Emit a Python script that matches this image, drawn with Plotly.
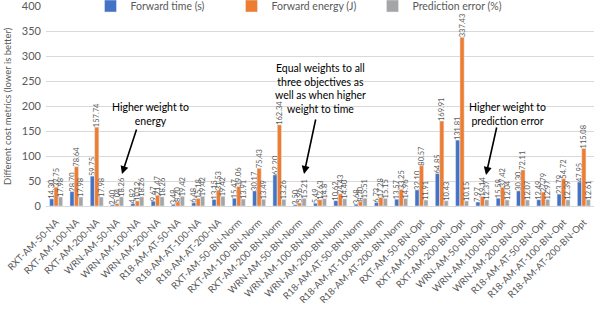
import plotly.graph_objects as go

categories = [
    "RXT-AM-50-NA", "RXT-AM-100-NA", "RXT-AM-200-NA",
    "WRN-AM-50-NA", "WRN-AM-100-NA", "WRN-AM-200-NA",
    "R18-AM-AT-50-NA", "R18-AM-AT-100-NA", "R18-AM-AT-200-NA",
    "RXT-AM-50-BN-Norm", "RXT-AM-100-BN-Norm", "RXT-AM-200-BN-Norm",
    "WRN-AM-50-BN-Norm", "WRN-AM-100-BN-Norm", "WRN-AM-200-BN-Norm",
    "R18-AM-AT-50-BN-Norm", "R18-AM-AT-100-BN-Norm", "R18-AM-AT-200-BN-Norm",
    "RXT-AM-50-BN-Opt", "RXT-AM-100-BN-Opt", "RXT-AM-200-BN-Opt",
    "WRN-AM-50-BN-Opt", "WRN-AM-100-BN-Opt", "WRN-AM-200-BN-Opt",
    "R18-AM-AT-50-BN-Opt", "R18-AM-AT-100-BN-Opt", "R18-AM-AT-200-BN-Opt",
]
forward_time = [14.30, 28.70, 59.75, 2.40, 4.82, 9.67, 3.49, 6.48, 13.15,
                15.47, 30.17, 62.20, 2.50, 5.49, 10.62, 3.68, 6.73, 13.57,
                32.10, 64.85, 131.81, 7.97, 15.59, 30.30, 12.49, 23.79, 47.95]
forward_energy = [37.75, 78.64, 157.74, 5.04, 10.12, 21.47, 8.20, 15.18, 31.53,
                  39.06, 75.43, 162.34, 5.96, 12.63, 24.43, 8.70, 17.28, 33.25,
                  80.57, 169.91, 337.43, 19.14, 37.42, 72.11, 27.79, 54.72, 115.08]
prediction_error = [17.98, 17.98, 17.98, 18.26, 18.26, 18.26, 19.42, 19.42, 19.42,
                    13.91, 13.49, 13.26, 15.21, 14.8, 14.40, 15.51, 15.15, 14.96,
                    11.91, 10.43, 10.15, 12.37, 12.04, 12.07, 12.97, 12.39, 12.61]
y_ticks = [0, 50, 100, 150, 200, 250, 300, 350, 400]

FONT = "Lato"
GRAY_TXT = "#595959"

def fmt(vals):
    out = []
    for v in vals:
        s = "%.2f" % v
        if v == 14.8:
            s = "14.8"
        out.append(s)
    return out

series = [
    ("Forward time (s)", forward_time, "#4472C4"),
    ("Forward energy (J)", forward_energy, "#ED7D31"),
    ("Prediction error (%)", prediction_error, "#A5A5A5"),
]

fig = go.Figure()
for name, vals, col in series:
    fig.add_trace(go.Bar(
        x=categories, y=vals, name=name, marker_color=col,
        text=fmt(vals), textposition="outside", textangle=-90,
        constraintext="none", cliponaxis=False,
        textfont=dict(family=FONT, size=7.5, color=GRAY_TXT),
    ))

W, H = 598, 318
L, R, T, B = 46, 4, 6, 112
pw, ph = W - L - R, H - T - B

def px(x):
    return (x - L) / pw

def py(y):
    return (H - B - y) / ph

annotations = []
texts = [
    ("Higher weight to<br>energy", 150, 114),
    ("Equal weights to all<br>three objectives as<br>well as when higher<br>weight to time", 320, 88),
    ("Higher weight to<br>prediction error", 507, 114),
]
for t, x, y in texts:
    annotations.append(dict(text=t, x=px(x), y=py(y), xref="paper", yref="paper",
                            showarrow=False, font=dict(family=FONT, size=10.5, color="#000000"),
                            align="center", xanchor="center", yanchor="middle"))
arrows = [(122, 174, 15, -46), (304, 174, 12, -56), (486, 175, 11, -49)]
for hx, hy, ax, ay in arrows:
    annotations.append(dict(text="", x=px(hx), y=py(hy), xref="paper", yref="paper",
                            showarrow=True, ax=ax, ay=ay, arrowhead=2, arrowsize=1,
                            arrowwidth=1.6, arrowcolor="#000000"))
# y-axis title
annotations.append(dict(text="Different cost metrics (lower is better)", x=px(7), y=0.5,
                        xref="paper", yref="paper", showarrow=False, textangle=-90,
                        font=dict(family=FONT, size=9.5, color=GRAY_TXT),
                        xanchor="center", yanchor="middle"))

fig.update_layout(
    width=W, height=H,
    margin=dict(l=L, r=R, t=T, b=B, autoexpand=False),
    plot_bgcolor="white", paper_bgcolor="white",
    barmode="group", bargap=0.35, bargroupgap=0.05,
    font=dict(family=FONT, color=GRAY_TXT),
    legend=dict(orientation="h", x=px(302), xanchor="center", y=1.0, yanchor="middle",
                bgcolor="rgba(0,0,0,0)", font=dict(family=FONT, size=10.5, color=GRAY_TXT),
                itemwidth=30, entrywidth=96, entrywidthmode="pixels", traceorder="normal"),
    xaxis=dict(tickangle=-45, tickfont=dict(family=FONT, size=9.5, color=GRAY_TXT),
               showgrid=False, showline=True, linecolor="#D9D9D9", ticks="",
               automargin=False, ticklabeloverflow="allow", ticklabelstandoff=6),
    yaxis=dict(range=[0, 400], tickvals=y_ticks, showgrid=True, gridcolor="#D9D9D9",
               zeroline=False, tickfont=dict(family=FONT, size=11, color=GRAY_TXT),
               automargin=False, ticklabelstandoff=4, ticklabeloverflow="allow"),
    annotations=annotations,
)

fig.write_html("out.html", config={"displayModeBar": False},
               post_script="document.body.style.margin='0px';document.body.style.padding='0px';")
